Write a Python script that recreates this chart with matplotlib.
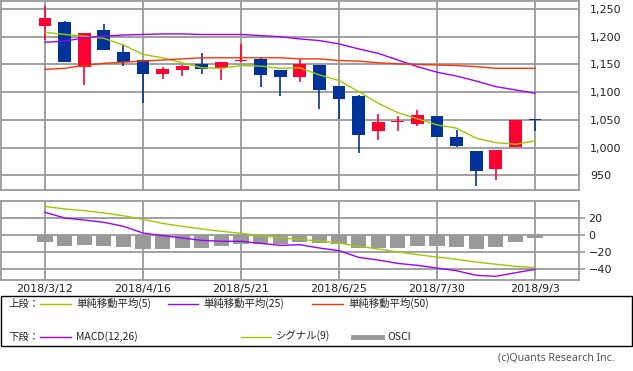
import matplotlib
matplotlib.use("Agg")
import matplotlib.pyplot as plt
from matplotlib.lines import Line2D
from matplotlib.patches import Rectangle
from matplotlib.ticker import FuncFormatter

# ---------------- data ----------------
weeks = ["2018/3/12", "2018/3/19", "2018/3/26", "2018/4/2", "2018/4/9", "2018/4/16",
         "2018/4/23", "2018/4/30", "2018/5/7", "2018/5/14", "2018/5/21", "2018/5/28",
         "2018/6/4", "2018/6/11", "2018/6/18", "2018/6/25", "2018/7/2", "2018/7/9",
         "2018/7/16", "2018/7/23", "2018/7/30", "2018/8/6", "2018/8/13", "2018/8/20",
         "2018/8/27", "2018/9/3"]
date_labels = ["2018/3/12", "2018/4/16", "2018/5/21", "2018/6/25", "2018/7/30", "2018/9/3"]

opens  = [1220, 1227, 1146, 1212, 1172, 1158, 1133, 1140, 1151, 1143, 1156, 1160, 1140,
          1127, 1149, 1111, 1093, 1030, 1046, 1043, 1057, 1019, 994, 961, 1001, 1052]
highs  = [1256, 1228, 1207, 1223, 1186, 1158, 1145, 1149, 1171, 1154, 1186, 1164, 1140,
          1159, 1149, 1111, 1095, 1061, 1057, 1068, 1057, 1032, 994, 996, 1050, 1052]
lows   = [1194, 1154, 1113, 1176, 1147, 1081, 1124, 1129, 1133, 1122, 1155, 1110, 1093,
          1118, 1070, 1052, 990, 1014, 1030, 1039, 1019, 1001, 931, 942, 1001, 1030]
closes = [1234, 1154, 1206, 1176, 1154, 1133, 1142, 1148, 1142, 1154, 1158, 1131, 1127,
          1151, 1104, 1088, 1023, 1046, 1048, 1059, 1019, 1003, 958, 996, 1050, 1050]

ma5  = [1208, 1204, 1201, 1197, 1185, 1168, 1162, 1153, 1144, 1143, 1148, 1147, 1143,
        1144, 1131, 1121, 1101, 1080, 1063, 1052, 1041, 1035, 1017, 1009, 1006, 1012]
ma25 = [1190, 1192, 1198, 1201, 1203, 1204, 1205, 1205, 1204, 1204, 1204, 1202, 1200,
        1196, 1193, 1187, 1178, 1170, 1158, 1146, 1136, 1129, 1120, 1110, 1104, 1098]
ma50 = [1141, 1143, 1148, 1152, 1154, 1156, 1158, 1160, 1162, 1162, 1162, 1162, 1162,
        1160, 1160, 1157, 1156, 1153, 1151, 1150, 1149, 1148, 1146, 1143, 1143, 1143]

macd   = [27, 20.4, 18, 15.3, 10.6, 2.7, -0.4, -3.1, -5.9, -7, -7, -9.4, -11.8, -11,
          -14.9, -18, -25.9, -29, -33, -35.3, -38.4, -41.6, -47, -48.2, -44, -40]
signal = [34, 31, 29, 26.3, 23, 18.8, 14, 10.6, 7.4, 4.7, 2.4, -0.4, -3.1, -4.7,
          -6.7, -9, -12.9, -16, -19.6, -22.7, -25.5, -28.2, -31.4, -34, -36.5, -38]
osci   = [-7.5, -12.2, -11, -12.2, -13.3, -15.7, -15.7, -14.5, -14.5, -12.2, -9.8, -9.8,
          -9.8, -7.5, -8.6, -9.8, -14.5, -14.5, -14.5, -12.2, -12.2, -13.3, -15.7, -13.3,
          -7.5, -2.7]

price_ticks = [950, 1000, 1050, 1100, 1150, 1200, 1250]
macd_ticks = [-40, -20, 0, 20]

# ---------------- style ----------------
UP = "#ff0033"
DOWN = "#003399"
C_MA5 = "#99cc00"
C_MA25 = "#9900ff"
C_MA50 = "#ff3300"
GRID = "#999999"
TXT = "#222222"
CJK = ["Noto Sans CJK JP", "DejaVu Sans"]

W, H = 633, 371
fig = plt.figure(figsize=(W / 100, H / 100), dpi=100)


def fx(x):
    return x / W


def fy(y):
    return 1 - y / H


x = list(range(len(weeks)))
xlim = (-2.245, 27.245)
grid_idx = [weeks.index(d) for d in date_labels]

# ---------------- top panel ----------------
ax1 = fig.add_axes([fx(1), fy(190), fx(579) - fx(1), fy(0.5) - fy(190)])
ax1.set_xlim(*xlim)
ax1.set_ylim(923.5, 1265.3)
for gx in grid_idx:
    ax1.axvline(gx, color=GRID, lw=1.3, zorder=0)
for gy in price_ticks:
    ax1.axhline(gy, color=GRID, lw=1.3, zorder=0)

cw = 0.66
for i in x:
    o, h, l, c = opens[i], highs[i], lows[i], closes[i]
    col = UP if c >= o else DOWN
    ax1.vlines(i, l, h, color=col, lw=1.2, zorder=2)
    bottom = min(o, c)
    height = max(abs(c - o), 1.6)
    ax1.bar(i, height, bottom=bottom, width=cw, color=col, edgecolor="none", zorder=3)

ax1.plot(x, ma5, color=C_MA5, lw=1.0, zorder=4)
ax1.plot(x, ma25, color=C_MA25, lw=1.0, zorder=4)
ax1.plot(x, ma50, color=C_MA50, lw=1.0, zorder=4)

ax1.yaxis.tick_right()
ax1.set_yticks(price_ticks)
ax1.yaxis.set_major_formatter(FuncFormatter(lambda v, p: f"{int(v):,}"))
ax1.tick_params(axis="y", length=0, pad=7.8, labelsize=8, labelcolor=TXT)
ax1.set_xticks([])
for s in ax1.spines.values():
    s.set_color(GRID)
    s.set_linewidth(1.3)

# ---------------- MACD panel ----------------
ax2 = fig.add_axes([fx(1), fy(280), fx(579) - fx(1), fy(201.3) - fy(280)])
ax2.set_xlim(*xlim)
ax2.set_ylim(-52.5, 40)
for gx in grid_idx:
    ax2.axvline(gx, color=GRID, lw=1.3, zorder=0)
for gy in macd_ticks:
    ax2.axhline(gy, color=GRID, lw=1.3, zorder=0)

ax2.bar(x, osci, width=0.77, color="#999999", edgecolor="none", zorder=2)
ax2.plot(x, signal, color=C_MA5, lw=1.0, zorder=4)
ax2.plot(x, macd, color=C_MA25, lw=1.0, zorder=4)

ax2.yaxis.tick_right()
ax2.set_yticks(macd_ticks)
ax2.yaxis.set_major_formatter(FuncFormatter(lambda v, p: f"{int(v)}".replace("-", "\u2212")))
ax2.tick_params(axis="y", length=4.3, width=1.2, color=GRID, pad=2.5, labelsize=8, labelcolor=TXT)
ax2.set_xticks(grid_idx)
ax2.set_xticklabels(date_labels)
ax2.tick_params(axis="x", length=0, pad=3, labelsize=8, labelcolor=TXT)
for s in ax2.spines.values():
    s.set_color(GRID)
    s.set_linewidth(1.3)

# ---------------- legend box ----------------
fig.patches.append(Rectangle((fx(0.5), fy(346)), fx(632) - fx(0.5), fy(296) - fy(346),
                             transform=fig.transFigure, fill=False, edgecolor="black",
                             lw=1.0))


def leg_line(x0, x1, y, color, lw=1.0):
    fig.add_artist(Line2D([fx(x0), fx(x1)], [fy(y), fy(y)], color=color, lw=lw,
                          transform=fig.transFigure))


def leg_text(x0, y, s):
    fig.text(fx(x0), fy(y), s, fontsize=7.5, family=CJK, color=TXT, va="center", ha="left")


r1, r2 = 303.5, 336.5
leg_text(8, r1, "上段：")
leg_line(40, 71, r1, C_MA5)
leg_text(76, r1, "単純移動平均(5)")
leg_line(168, 198, r1, C_MA25)
leg_text(203, r1, "単純移動平均(25)")
leg_line(312, 343, r1, C_MA50)
leg_text(348, r1, "単純移動平均(50)")

leg_text(8, r2, "下段：")
leg_line(40, 71, r2, C_MA25)
leg_text(76, r2, "MACD(12,26)")
leg_line(241, 271, r2, C_MA5)
leg_text(276, r2, "シグナル(9)")
leg_line(353, 382, r2, "#999999", lw=3.5)
leg_text(387, r2, "OSCI")

fig.text(fx(615), fy(358), "(c)Quants Research Inc.", fontsize=7.6, family="Noto Sans",
         color="#555555", ha="right", va="center")

fig.savefig("out.png", dpi=100)
